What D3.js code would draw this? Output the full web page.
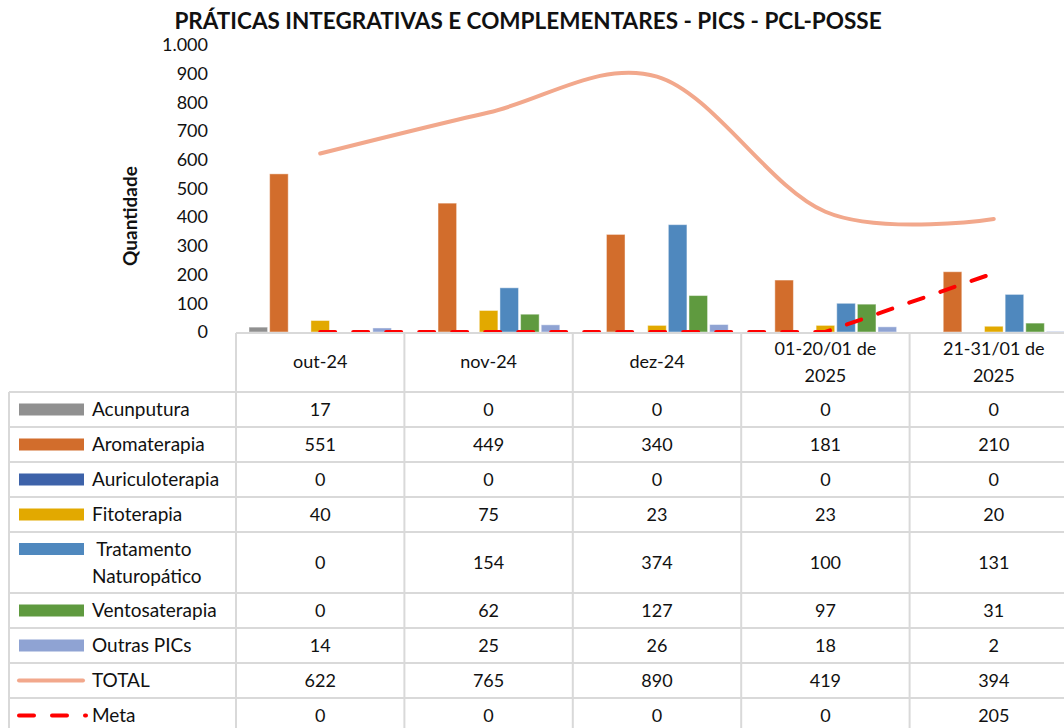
<html>
<head>
<meta charset="utf-8">
<style>
  body { margin: 0; background: #fff; }
  text { font-family: Lato, "Open Sans", sans-serif; fill: #111; }
</style>
<script src="https://d3js.org/d3.v7.min.js"></script>
</head>
<body>
<div id="chart"></div>
<script>
// categorias (cabeçalho da tabela, quebrado em linhas)
var categories = [["out-24"], ["nov-24"], ["dez-24"], ["01-20/01 de", "2025"], ["21-31/01 de", "2025"]];

// series de barras
var seriesNames = [["Acunputura"], ["Aromaterapia"], ["Auriculoterapia"], ["Fitoterapia"],
                   ["\u00a0Tratamento", "Naturopático"], ["Ventosaterapia"], ["Outras PICs"]];
var acunputura      = [17, 0, 0, 0, 0];
var aromaterapia    = [551, 449, 340, 181, 210];
var auriculoterapia = [0, 0, 0, 0, 0];
var fitoterapia     = [40, 75, 23, 23, 20];
var tratamento      = [0, 154, 374, 100, 131];
var ventosaterapia  = [0, 62, 127, 97, 31];
var outras          = [14, 25, 26, 18, 2];
// linhas
var total = [622, 765, 890, 419, 394];
var meta  = [0, 0, 0, 0, 205];
var yTicks = [0, 100, 200, 300, 400, 500, 600, 700, 800, 900, 1000];

var barValues = [acunputura, aromaterapia, auriculoterapia, fitoterapia, tratamento, ventosaterapia, outras];
var barColors = ["#909090", "#D26D2C", "#3D62A9", "#E2A900", "#4F88BE", "#5F9A3F", "#8FA3D3"];
var totalColor = "#F2A88C", metaColor = "#FF0000";

var W = 1064, H = 728;
var svg = d3.select("#chart").append("svg").attr("width", W).attr("height", H);

var x0 = d3.scaleBand().domain(d3.range(categories.length)).range([236, 1078]).padding(0);
var x1 = d3.scaleBand().domain(d3.range(barValues.length))
  .range([13, x0.bandwidth() - 13]).paddingInner(0.1);
var y = d3.scaleLinear().domain([0, 1000]).range([332, 45]);

var ptBR = d3.formatLocale({decimal: ",", thousands: ".", grouping: [3], currency: ["R$", ""]});
var fmt = ptBR.format(",d");

// titulo
svg.append("text").attr("x", 528).attr("y", 29).attr("text-anchor", "middle")
  .style("font-weight", "bold").style("font-size", "22.5px")
  .text("PRÁTICAS INTEGRATIVAS E COMPLEMENTARES - PICS - PCL-POSSE");

// eixo y
var yAxis = svg.append("g").attr("transform", "translate(236,0)")
  .call(d3.axisLeft(y).tickValues(yTicks).tickFormat(fmt).tickSize(0).tickPadding(28));
yAxis.select(".domain").remove();
yAxis.selectAll("text").style("font-size", "18px").style("font-family", "Lato, sans-serif").attr("fill", "#111");

svg.append("text").attr("transform", "translate(137,216) rotate(-90)")
  .attr("text-anchor", "middle").style("font-weight", "bold").style("font-size", "19px")
  .text("Quantidade");

// barras
var groups = svg.append("g").selectAll("g").data(barValues).enter().append("g")
  .attr("fill", function (d, i) { return barColors[i]; });
groups.each(function (vals, si) {
  d3.select(this).selectAll("rect").data(vals).enter().append("rect")
    .attr("x", function (d, ci) { return x0(ci) + x1(si); })
    .attr("width", x1.bandwidth())
    .attr("y", function (d) { return y(d); })
    .attr("height", function (d) { return y(0) - y(d); })
    .attr("stroke", "rgba(255,255,255,0.45)").attr("stroke-width", 1);
});

var cx = function (d, i) { return x0(i) + x0.bandwidth() / 2; };

// linha total (suavizada)
svg.append("path").datum(total)
  .attr("d", d3.line().x(cx).y(function (d) { return y(d); }).curve(d3.curveCardinal.tension(0)))
  .attr("fill", "none").attr("stroke", totalColor).attr("stroke-width", 4).attr("stroke-linecap", "round");

// linha meta
svg.append("path").datum(meta)
  .attr("d", d3.line().x(cx).y(function (d) { return y(d); }))
  .attr("fill", "none").attr("stroke", metaColor).attr("stroke-width", 4)
  .attr("stroke-dasharray", "15 18").attr("stroke-linecap", "round");

// tabela de dados
var grid = "#D9D9D9";
var rows = seriesNames.map(function (n, i) { return {lines: n, vals: barValues[i], kind: "bar", color: barColors[i]}; });
rows.push({lines: ["TOTAL"], vals: total, kind: "total"});
rows.push({lines: ["Meta"], vals: meta, kind: "meta"});

var rowTop = 392;
rows.forEach(function (r) {
  r.top = rowTop;
  r.h = r.lines.length > 1 ? 61 : 35;
  rowTop += r.h;
});

var table = svg.append("g");
// linhas horizontais
table.append("line").attr("x1", 236).attr("x2", 1078).attr("y1", 333).attr("y2", 333)
  .attr("stroke", grid).attr("stroke-width", 2);
rows.forEach(function (r) {
  table.append("line").attr("x1", 9).attr("x2", 1078).attr("y1", r.top).attr("y2", r.top)
    .attr("stroke", grid).attr("stroke-width", 2);
});
// linhas verticais
table.append("line").attr("x1", 9).attr("x2", 9).attr("y1", 392).attr("y2", H)
  .attr("stroke", grid).attr("stroke-width", 2);
d3.range(categories.length + 1).forEach(function (i) {
  var xx = i < categories.length ? x0(i) : 1078;
  table.append("line").attr("x1", xx).attr("x2", xx).attr("y1", 333).attr("y2", H)
    .attr("stroke", grid).attr("stroke-width", 2);
});

// cabecalho
categories.forEach(function (lines, i) {
  var t = table.append("text").attr("text-anchor", "middle").style("font-size", "18px");
  lines.forEach(function (l, k) {
    t.append("tspan").attr("x", cx(null, i))
      .attr("y", 362 + (k - (lines.length - 1) / 2) * 27).attr("dy", "0.35em").text(l);
  });
});

// linhas da tabela
rows.forEach(function (r) {
  var mid = r.top + r.h / 2;
  var firstY = r.lines.length > 1 ? mid - 13.5 : mid;
  if (r.kind === "bar") {
    table.append("rect").attr("x", 19).attr("width", 65).attr("y", firstY - 6).attr("height", 12)
      .attr("fill", r.color);
  } else {
    table.append("line").attr("x1", 19).attr("x2", r.kind === "meta" ? 86 : 83)
      .attr("y1", mid).attr("y2", mid)
      .attr("stroke", r.kind === "meta" ? metaColor : totalColor).attr("stroke-width", 4)
      .attr("stroke-linecap", "round")
      .attr("stroke-dasharray", r.kind === "meta" ? "15 18" : null);
  }
  var t = table.append("text").style("font-size", "19px");
  r.lines.forEach(function (l, k) {
    t.append("tspan").attr("x", 92).attr("y", firstY + k * 27).attr("dy", "0.35em").text(l);
  });
  r.vals.forEach(function (v, i) {
    table.append("text").attr("x", cx(null, i)).attr("y", mid).attr("dy", "0.35em")
      .attr("text-anchor", "middle").style("font-size", "18px").text(fmt(v));
  });
});
</script>
</body>
</html>
